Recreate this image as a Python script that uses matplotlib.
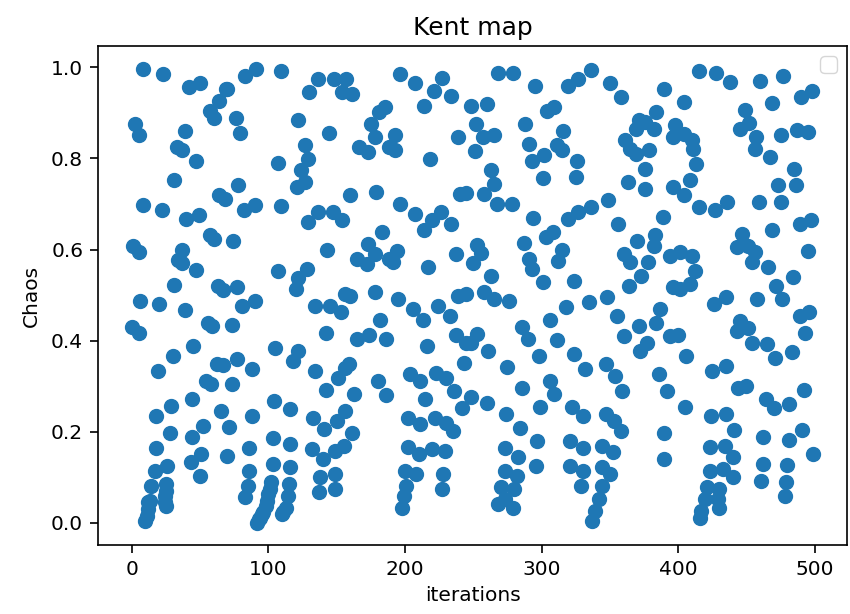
import matplotlib
matplotlib.use("Agg")
import matplotlib.pyplot as plt
import numpy as np

# Kent map orbit, (iteration, chaos value) pairs grouped by stretch of iterations
seg_0 = [(0, 0.431), (1, 0.609), (2, 0.876), (5, 0.851), (5, 0.594), (5, 0.416),
         (6, 0.488), (8, 0.997), (8, 0.698), (10, 0.004), (11, 0.015), (12, 0.030),
         (12, 0.045), (13, 0.048), (14, 0.081), (17, 0.114), (18, 0.164), (18, 0.235),
         (19, 0.334), (20, 0.481), (22, 0.686), (23, 0.986), (24, 0.045), (24, 0.059),
         (25, 0.037), (25, 0.070), (25, 0.085), (26, 0.125), (28, 0.198), (29, 0.257),
         (30, 0.367), (31, 0.522), (31, 0.752), (33, 0.825), (34, 0.577), (37, 0.599),
         (37, 0.570), (37, 0.819), (39, 0.860), (39, 0.467), (40, 0.667), (42, 0.957),
         (43, 0.133), (44, 0.272), (44, 0.189), (45, 0.389), (47, 0.794), (47, 0.555),
         (49, 0.677), (50, 0.966), (50, 0.103), (51, 0.151), (52, 0.213), (54, 0.312),
         (56, 0.440), (57, 0.905), (57, 0.633), (58, 0.305), (59, 0.433), (60, 0.889),
         (60, 0.623), (62, 0.350), (63, 0.521), (64, 0.927), (64, 0.719), (65, 0.245),
         (67, 0.511), (67, 0.347), (68, 0.711), (69, 0.953)]

seg_1 = [(70, 0.953), (70, 0.147), (71, 0.211), (73, 0.435), (73, 0.305), (74, 0.618),
         (76, 0.889), (77, 0.517), (77, 0.360), (78, 0.741), (79, 0.856), (81, 0.477),
         (82, 0.687), (83, 0.980), (83, 0.056), (85, 0.081), (86, 0.164), (86, 0.114),
         (88, 0.338), (88, 0.235), (90, 0.697), (90, 0.488), (91, 0.997), (92, 0.001),
         (93, 0.008), (94, 0.012), (95, 0.019), (96, 0.025), (98, 0.037), (99, 0.048),
         (100, 0.063), (101, 0.075), (102, 0.089), (103, 0.187), (103, 0.129),
         (104, 0.268), (105, 0.385), (107, 0.790), (107, 0.552), (109, 0.992),
         (109, 0.695), (110, 0.019), (111, 0.024), (113, 0.034), (114, 0.059),
         (115, 0.085), (116, 0.250), (116, 0.173), (116, 0.122), (118, 0.356),
         (120, 0.514), (121, 0.737), (122, 0.884), (122, 0.538), (122, 0.378),
         (124, 0.774), (127, 0.829), (127, 0.748), (128, 0.558), (129, 0.799),
         (129, 0.660), (130, 0.946), (132, 0.162), (133, 0.231), (134, 0.477),
         (134, 0.333), (136, 0.975), (136, 0.682), (137, 0.067), (138, 0.100),
         (140, 0.140), (141, 0.206), (142, 0.416), (142, 0.292), (143, 0.599),
         (144, 0.856), (145, 0.477), (147, 0.682), (148, 0.975), (149, 0.158),
         (149, 0.107), (149, 0.074), (150, 0.224), (151, 0.319), (153, 0.462),
         (154, 0.946), (154, 0.664), (155, 0.169), (156, 0.503), (156, 0.341),
         (156, 0.246)]

seg_2 = [(157, 0.975), (159, 0.350), (160, 0.719), (160, 0.499), (161, 0.942),
         (161, 0.198), (163, 0.283), (165, 0.580), (165, 0.404), (166, 0.826),
         (172, 0.569), (173, 0.814), (173, 0.613), (174, 0.413), (175, 0.875),
         (178, 0.847), (178, 0.591), (178, 0.506), (179, 0.726), (180, 0.312),
         (181, 0.902), (182, 0.445), (183, 0.638), (185, 0.913), (186, 0.404),
         (186, 0.281), (188, 0.825), (188, 0.580), (191, 0.572), (193, 0.851),
         (193, 0.819), (194, 0.598), (195, 0.492), (196, 0.986), (196, 0.700),
         (198, 0.034), (199, 0.059), (200, 0.114), (201, 0.081), (202, 0.231),
         (202, 0.166), (204, 0.328), (206, 0.470), (207, 0.966), (207, 0.678),
         (208, 0.107), (210, 0.152), (211, 0.312), (211, 0.217), (213, 0.445),
         (214, 0.916), (214, 0.642), (215, 0.272), (216, 0.389), (217, 0.561),
         (218, 0.799), (220, 0.664), (220, 0.162), (221, 0.948), (222, 0.231),
         (223, 0.330), (224, 0.477), (226, 0.682), (227, 0.977), (227, 0.074),
         (228, 0.107), (229, 0.158), (230, 0.319), (230, 0.220), (233, 0.455),
         (234, 0.938), (234, 0.656), (235, 0.202), (236, 0.290), (237, 0.591),
         (237, 0.413), (239, 0.847), (239, 0.499), (240, 0.721), (242, 0.253),
         (243, 0.352), (245, 0.724), (245, 0.503), (245, 0.396)]

seg_3 = [(248, 0.916), (248, 0.396), (248, 0.277), (250, 0.570), (251, 0.816),
         (252, 0.876), (253, 0.611), (253, 0.415), (256, 0.592), (257, 0.847),
         (258, 0.722), (258, 0.506), (260, 0.919), (260, 0.264), (261, 0.378),
         (263, 0.775), (263, 0.543), (265, 0.851), (265, 0.743), (265, 0.492),
         (267, 0.700), (268, 0.988), (268, 0.041), (270, 0.078), (273, 0.165),
         (273, 0.114), (273, 0.052), (274, 0.239), (275, 0.343), (276, 0.488),
         (278, 0.700), (279, 0.988), (279, 0.034), (280, 0.074), (282, 0.103),
         (283, 0.144), (284, 0.208), (286, 0.431), (286, 0.297), (287, 0.614),
         (288, 0.876), (290, 0.404), (291, 0.831), (291, 0.580), (293, 0.794),
         (293, 0.558), (294, 0.670), (295, 0.960), (296, 0.125), (297, 0.180),
         (298, 0.367), (299, 0.255), (301, 0.758), (301, 0.528), (302, 0.807),
         (303, 0.627), (304, 0.905), (306, 0.445), (306, 0.312), (308, 0.638),
         (309, 0.913), (309, 0.283), (311, 0.829), (311, 0.401), (312, 0.576),
         (315, 0.818), (315, 0.599), (316, 0.860), (318, 0.473), (319, 0.960),
         (319, 0.667), (321, 0.180), (321, 0.125), (322, 0.255), (324, 0.532),
         (324, 0.371), (325, 0.760), (326, 0.794), (327, 0.975), (327, 0.682),
         (329, 0.081), (330, 0.235), (330, 0.165), (330, 0.114), (332, 0.338)]

seg_4 = [(335, 0.484), (336, 0.995), (336, 0.693), (337, 0.004), (339, 0.026),
         (342, 0.052), (344, 0.169), (344, 0.122), (344, 0.081), (347, 0.349),
         (347, 0.239), (348, 0.495), (349, 0.708), (350, 0.966), (350, 0.107),
         (352, 0.155), (353, 0.224), (354, 0.323), (355, 0.455), (356, 0.656),
         (358, 0.936), (358, 0.202), (359, 0.290), (360, 0.591), (360, 0.411),
         (361, 0.840), (363, 0.748), (364, 0.521), (365, 0.821), (365, 0.572),
         (369, 0.865), (369, 0.810), (370, 0.620), (371, 0.884), (371, 0.433),
         (372, 0.378), (373, 0.543), (376, 0.880), (376, 0.777), (376, 0.733),
         (377, 0.396), (378, 0.572), (379, 0.818), (382, 0.865), (382, 0.607),
         (383, 0.631), (384, 0.902), (384, 0.440), (386, 0.327), (387, 0.470),
         (389, 0.671), (390, 0.953), (390, 0.198), (390, 0.140), (392, 0.290),
         (394, 0.587), (394, 0.411), (396, 0.847), (396, 0.737), (396, 0.517),
         (398, 0.873), (400, 0.413), (401, 0.594), (401, 0.514), (404, 0.924),
         (404, 0.854), (404, 0.719), (405, 0.255), (406, 0.367), (409, 0.752),
         (409, 0.525), (410, 0.840), (410, 0.585), (411, 0.821), (412, 0.554),
         (413, 0.787), (415, 0.993), (415, 0.693)]

seg_5 = [(416, 0.012), (417, 0.026), (420, 0.052), (421, 0.078), (423, 0.166),
         (423, 0.114), (424, 0.235), (425, 0.334), (426, 0.481), (427, 0.686),
         (428, 0.988), (429, 0.052), (430, 0.074), (430, 0.034), (433, 0.118),
         (434, 0.169), (435, 0.495), (435, 0.345), (435, 0.240), (436, 0.704),
         (438, 0.968), (440, 0.144), (440, 0.100), (441, 0.204), (443, 0.605),
         (443, 0.422), (444, 0.297), (445, 0.865), (445, 0.444), (447, 0.635),
         (449, 0.907), (450, 0.301), (451, 0.609), (451, 0.428), (452, 0.878),
         (454, 0.572), (454, 0.396), (456, 0.821), (456, 0.594), (457, 0.848),
         (458, 0.492), (459, 0.704), (460, 0.970), (461, 0.092), (462, 0.189),
         (462, 0.130), (464, 0.272), (465, 0.393), (466, 0.561), (467, 0.804),
         (469, 0.922), (469, 0.643), (470, 0.253), (471, 0.363), (472, 0.521),
         (473, 0.741), (475, 0.851), (475, 0.704), (476, 0.492), (477, 0.980),
         (478, 0.059), (479, 0.089), (480, 0.127), (481, 0.262), (481, 0.182),
         (483, 0.376), (484, 0.541), (485, 0.777), (486, 0.741), (487, 0.862),
         (489, 0.656), (489, 0.455), (490, 0.935), (491, 0.204), (492, 0.292),
         (493, 0.416), (495, 0.858), (495, 0.598), (496, 0.464), (497, 0.665),
         (498, 0.949), (499, 0.152)]

orbit = np.array(seg_0 + seg_1 + seg_2 + seg_3 + seg_4 + seg_5)
iterations = orbit[:, 0]
chaos = orbit[:, 1]

fig, ax = plt.subplots(figsize=(8.5, 6.14), dpi=100)
ax.scatter(iterations, chaos, s=100, color="#1f77b4")
ax.set_title("Kent map", fontsize=18, pad=8)
ax.set_xlabel("iterations", fontsize=14.5, labelpad=5)
ax.set_ylabel("Chaos", fontsize=14.5, labelpad=7)
ax.tick_params(labelsize=14.5, length=5.5, width=1.2, pad=5)
for sp in ax.spines.values():
    sp.set_linewidth(1.2)
ax.legend(fontsize=15)
fig.subplots_adjust(left=0.115, right=0.997, bottom=0.112, top=0.925)
fig.savefig("out.png", dpi=100)
